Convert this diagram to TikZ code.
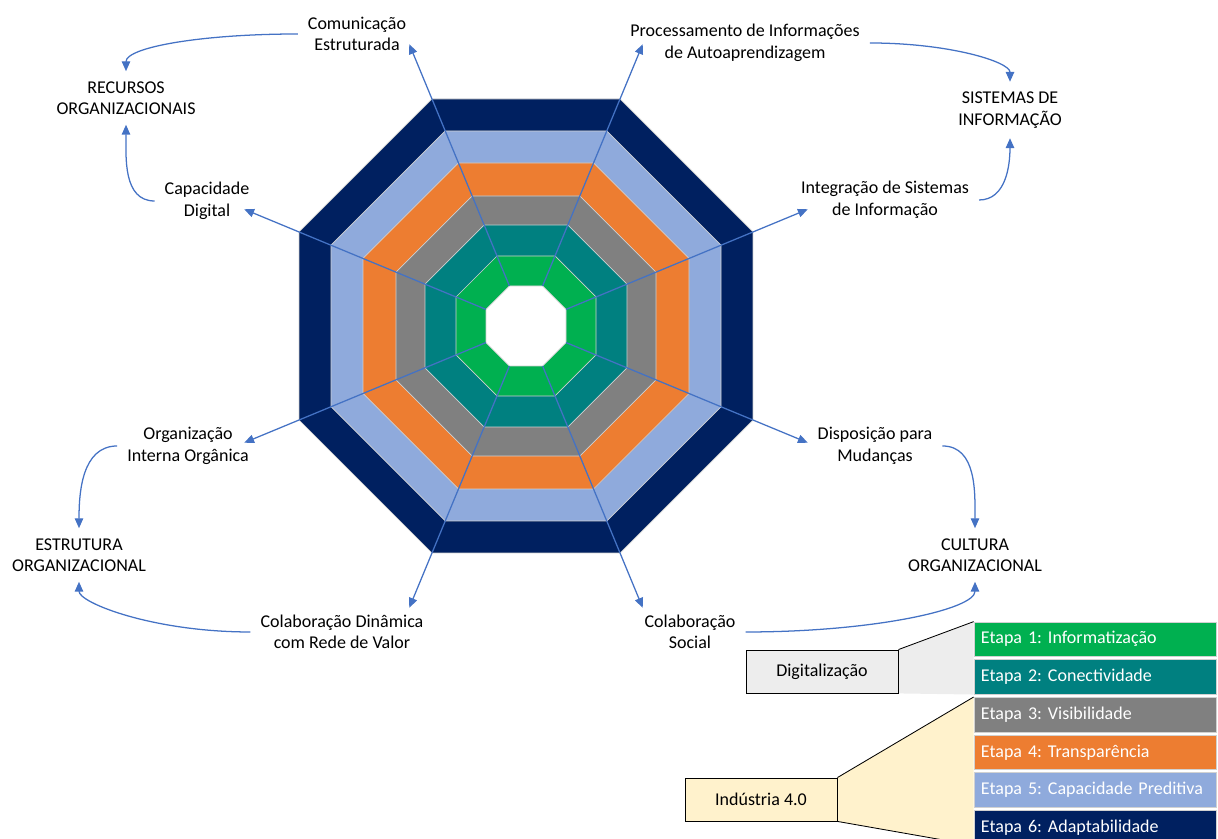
\documentclass[tikz,border=0pt]{standalone}
\usepackage{fontspec}
\setmainfont{Carlito}
\usetikzlibrary{calc,arrows.meta,backgrounds}

\definecolor{etapaA}{HTML}{00B050}
\definecolor{etapaB}{HTML}{008080}
\definecolor{etapaC}{HTML}{808080}
\definecolor{etapaD}{HTML}{ED7D31}
\definecolor{etapaE}{HTML}{8FAADC}
\definecolor{etapaF}{HTML}{002060}
\definecolor{azul}{HTML}{4472C4}
\definecolor{cinza}{HTML}{EDEDED}
\definecolor{creme}{HTML}{FFF2CC}

\tikzset{
    rotulo/.style={align=center, inner sep=7pt},
    raio/.style={azul, line width=0.9pt, -{Triangle[length=7pt,width=6pt]}},
    curva/.style={azul, line width=0.9pt, -{Triangle[length=7pt,width=6pt]}},
    anel/.style={draw=white!82!black, line width=0.5pt},
    etapa/.style={text=white, text width=5.7cm, inner xsep=0.175cm, minimum height=0.8625cm, align=left, draw=white!82!black, line width=0.5pt},
    caixa/.style={draw=black, line width=0.6pt, minimum width=3.8cm, minimum height=1.075cm},
}

\begin{document}
\begin{tikzpicture}[x=0.025cm, y=0.025cm, font=\fontsize{12.8}{15.3}\selectfont\frenchspacing]
    \useasboundingbox (0,0) rectangle (1218,839);
    \clip (0,0) rectangle (1218,839);

    % octogono das etapas
    \begin{scope}[shift={(526,513)}]
        \foreach \a/\cor in {227/etapaF, 195/etapaE, 163/etapaD, 130/etapaC, 101/etapaB, 70/etapaA, 40/white}
            \draw[anel, fill=\cor] (22.5:{\a*1.0824}) \foreach \k in {1,...,7} { -- ({22.5+45*\k}:{\a*1.0824}) } -- cycle;
        \foreach \i in {1,...,8} {
            \coordinate (v\i) at ({45*\i-22.5}:43.3);
            \coordinate (t\i) at ({45*\i-22.5}:305);
            \draw[raio] (v\i) -- (t\i);
        }
    \end{scope}

    % dimensoes
    \node[rotulo] (int) at (885,639) {Integração de Sistemas\\de Informação};
    \node[rotulo] (proc) at (745,796) {Processamento de Informações\\de Autoaprendizagem};
    \node[rotulo] (com) at (357,805) {Comunicação\\Estruturada};
    \node[rotulo] (cap) at (207,638) {Capacidade\\Digital};
    \node[rotulo] (org) at (188,393) {Organização\\Interna Orgânica};
    \node[rotulo] (coldin) at (342,207) {Colaboração Dinâmica\\com Rede de Valor};
    \node[rotulo] (colsoc) at (690,207) {Colaboração\\Social};
    \node[rotulo] (disp) at (875,393) {Disposição para\\Mudanças};

    % areas
    \node[rotulo] (rec) at (126,741) {RECURSOS\\ORGANIZACIONAIS};
    \node[rotulo] (sis) at (1010,729) {SISTEMAS DE\\INFORMAÇÃO};
    \node[rotulo] (est) at (79,284) {ESTRUTURA\\ORGANIZACIONAL};
    \node[rotulo] (cul) at (975,284) {CULTURA\\ORGANIZACIONAL};

    \draw[curva] (com.west) to[out=180, in=90, out looseness=1.4, in looseness=0.35] (rec.north);
    \draw[curva] (cap.west) to[out=180, in=-90] (rec.south);
    \draw[curva] (proc.east) to[out=0, in=90, out looseness=1.4, in looseness=0.35] (sis.north);
    \draw[curva] (int.east) to[out=0, in=-90] (sis.south);
    \draw[curva] (org.west) to[out=180, in=90] (est.north);
    \draw[curva] (coldin.west) to[out=180, in=-90, out looseness=1.4, in looseness=0.3] (est.south);
    \draw[curva] (disp.east) to[out=0, in=90] (cul.north);
    \draw[curva] (colsoc.east) to[out=0, in=-90, out looseness=1.4, in looseness=0.3] (cul.south);

    % legenda
    \foreach \cor/\txt [count=\i] in {etapaA/Informatização, etapaB/Conectividade, etapaC/Visibilidade, etapaD/Transparência, etapaE/Capacidade Preditiva, etapaF/Adaptabilidade}
        \node[etapa, fill=\cor] (e\i) at (1095,{199.75-37.7*(\i-1)}) {Etapa \i: \txt};
    \node[caixa, fill=cinza] (dig) at (822,167.5) {Digitalização};
    \node[caixa, fill=creme] (ind) at (761,39.5) {Indústria 4.0};
    \begin{scope}[on background layer]
        \fill[cinza] (dig.north east) -- (e1.north west) -- (e2.south west) -- (dig.south east) -- cycle;
        \fill[creme] (ind.north east) -- (e3.north west) -- (e6.south west) -- (ind.south east) -- cycle;
    \end{scope}
    \draw[line width=0.6pt] (dig.north east) -- (e1.north west);
    \draw[line width=0.6pt] (ind.north east) -- (e3.north west);
    \draw[line width=0.6pt] (ind.south east) -- (e6.south west);
\end{tikzpicture}
\end{document}
